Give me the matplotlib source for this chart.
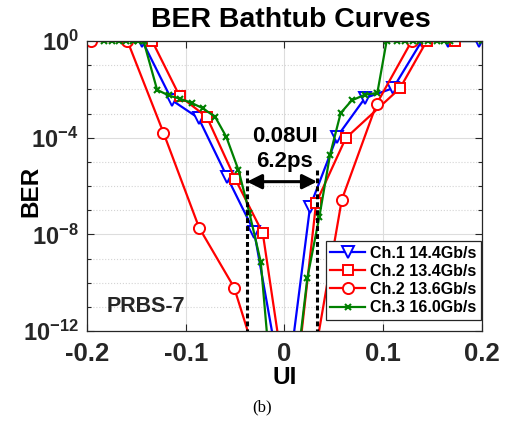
import matplotlib
matplotlib.use("Agg")
import matplotlib.pyplot as plt
import numpy as np

plt.rcParams['font.family'] = ['Liberation Sans', 'DejaVu Sans']
plt.rcParams['font.weight'] = 'bold'
plt.rcParams['mathtext.fontset'] = 'custom'
plt.rcParams['mathtext.bf'] = 'Liberation Sans:bold'
plt.rcParams['mathtext.rm'] = 'Liberation Sans:bold'

# Ch.1 14.4Gb/s (x in UI, log10 of BER)
ch1_x = [-0.144, -0.114, -0.087, -0.0583, -0.0307, -0.004, 0.0036, 0.0259, 0.0529, 0.0815, 0.110, 0.139, 0.166, 0.197]
ch1_log = [0, -2.45, -3.19, -5.61, -7.89, -14, -14, -6.85, -3.98, -2.36, -1.95, 0, 0, 0]

# Ch.2 13.4Gb/s
ch2a_x = [-0.134, -0.1063, -0.0786, -0.050, -0.022, 0.0, 0.012, 0.032, 0.062, 0.117, 0.144, 0.1725]
ch2a_log = [0, -2.27, -3.15, -5.7, -7.95, -14, -14, -6.7, -4.02, -1.95, 0, 0]

# Ch.2 13.6Gb/s
ch2b_x = [-0.196, -0.159, -0.1226, -0.0865, -0.051, -0.0258, 0.0286, 0.058, 0.0933, 0.1288]
ch2b_log = [0, 0, -3.79, -7.72, -10.2, -13.5, -13.5, -6.57, -2.6, 0]

# Ch.3 16.0Gb/s
ch3_x = [-0.1827, -0.175, -0.1675, -0.160, -0.153, -0.148, -0.1427, -0.129, -0.1174, -0.1056,
         -0.0937, -0.0828, -0.0702, -0.059, -0.0466, -0.0355, -0.024, -0.0163, 0.0154, 0.0232,
         0.0353, 0.0461, 0.0569, 0.068, 0.0815, 0.094, 0.1034, 0.1135, 0.122, 0.130, 0.137,
         0.145, 0.154, 0.162, 0.168, 0.2]
ch3_log = [0, 0, 0, 0, 0, 0, 0, -2.02, -2.25, -2.39, -2.57, -2.78, -3.14, -3.96, -5.34, -7.12,
           -9.15, -12.8, -12.5, -9.79, -7.27, -4.71, -2.98, -2.46, -2.22, -2.15, 0, 0, 0, 0, 0,
           0, 0, 0, 0, 0]

eye_left, eye_right = -0.038, 0.033
eye_top_log, arrow_log = -5.33, -5.82

fig = plt.figure(figsize=(5.06, 4.22), dpi=100)
ax = fig.add_axes([0.1719, 0.2156, 0.7807, 0.6872])

ax.plot(ch1_x, 10.0 ** np.array(ch1_log), color='#0000FF', lw=1.6, marker='v', ms=8,
        mfc='white', mew=1.4, label='Ch.1 14.4Gb/s')
ax.plot(ch2a_x, 10.0 ** np.array(ch2a_log), color='#FF0000', lw=1.6, marker='s', ms=7,
        mfc='white', mew=1.4, label='Ch.2 13.4Gb/s')
ax.plot(ch2b_x, 10.0 ** np.array(ch2b_log), color='#FF0000', lw=1.6, marker='o', ms=8,
        mfc='white', mew=1.4, label='Ch.2 13.6Gb/s')
ax.plot(ch3_x, 10.0 ** np.array(ch3_log), color='#008000', lw=1.6, marker='x', ms=5,
        mew=1.5, label='Ch.3 16.0Gb/s')

# eye opening markers
for xv in (eye_left, eye_right):
    ax.plot([xv, xv], [10.0 ** eye_top_log, 1e-13], color='k', lw=2.2,
            linestyle=(0, (1.6, 1.0)), zorder=5)
ax.annotate('', xy=(eye_left, 10.0 ** arrow_log), xytext=(eye_right, 10.0 ** arrow_log),
            arrowprops=dict(arrowstyle='<|-|>', color='k', lw=2.2, mutation_scale=22,
                            shrinkA=0, shrinkB=0), zorder=6)
ax.text(0.0, 10.0 ** -3.95, '0.08UI', ha='center', va='center', fontsize=16, fontweight='bold')
ax.text(0.0, 10.0 ** -5.0, '6.2ps', ha='center', va='center', fontsize=16, fontweight='bold')
ax.text(0.05, 0.084, 'PRBS-7', transform=ax.transAxes, ha='left', va='center',
        fontsize=15.5, fontweight='bold', color='#262626')

ax.set_yscale('log')
ax.set_xlim(-0.2, 0.2)
ax.set_ylim(1e-12, 1)

ax.set_xticks([-0.2, -0.1, 0, 0.1, 0.2])
ax.set_xticklabels(['-0.2', '-0.1', '0', '0.1', '0.2'])
ax.set_yticks([1e-12, 1e-8, 1e-4, 1])
ax.set_yticklabels([r'$\mathbf{10^{-12}}$', r'$\mathbf{10^{-8}}$', r'$\mathbf{10^{-4}}$',
                    r'$\mathbf{10^{0}}$'])
ax.set_yticks([10.0 ** -k for k in range(1, 12) if k % 4 != 0], minor=True)
ax.yaxis.set_minor_formatter(matplotlib.ticker.NullFormatter())
ax.xaxis.set_minor_locator(matplotlib.ticker.NullLocator())

ax.tick_params(which='both', direction='in', top=True, right=True,
               colors='#262626', width=0.8)
ax.tick_params(axis='x', which='major', labelsize=18.5, pad=8)
ax.tick_params(axis='y', which='major', labelsize=17, pad=6)
ax.tick_params(which='major', length=5)
ax.tick_params(which='minor', length=3)
ax.grid(True, which='major', color='#dddddd', lw=0.8)
ax.grid(True, which='minor', axis='y', color='#d4d4d4', lw=0.8, linestyle=':')
ax.set_axisbelow(True)
for sp in ax.spines.values():
    sp.set_color('#262626')
    sp.set_linewidth(0.9)

ax.set_xlabel('UI', fontsize=17.5, fontweight='bold')
ax.xaxis.set_label_coords(0.5, -0.122)
ax.set_ylabel('BER', fontsize=17.5, fontweight='bold')
ax.yaxis.set_label_coords(-0.112, 0.48)
ax.text(0.516, 1.049, 'BER Bathtub Curves', transform=ax.transAxes, ha='center',
        va='baseline', fontsize=20.5, fontweight='bold')

leg = ax.legend(loc='lower right', bbox_to_anchor=(0.9985, 0.038), borderaxespad=0,
                fontsize=11.5, handlelength=2.2, handletextpad=0.3, labelspacing=0.2,
                borderpad=0.3, fancybox=False, framealpha=1, edgecolor='#262626')
leg.get_frame().set_linewidth(0.9)
for t in leg.get_texts():
    t.set_fontweight('bold')

fig.text(0.517, 0.0355, '(b)', ha='center', va='center', fontsize=12,
         family='Liberation Serif', fontweight='normal')

fig.savefig('out.png', dpi=100)
